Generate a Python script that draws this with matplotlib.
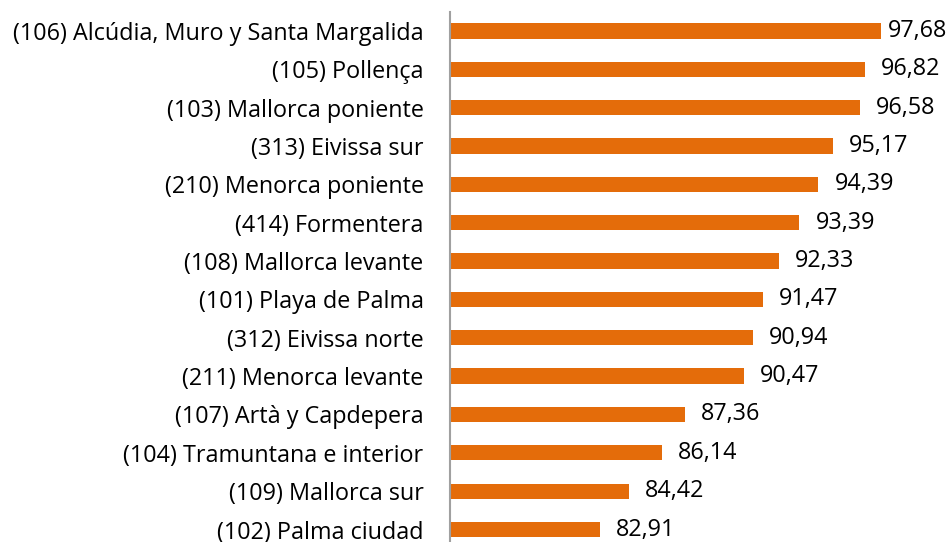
import matplotlib.pyplot as plt

zonas = ["(106) Alcúdia, Muro y Santa Margalida", "(105) Pollença", "(103) Mallorca poniente",
         "(313) Eivissa sur", "(210) Menorca poniente", "(414) Formentera",
         "(108) Mallorca levante", "(101) Playa de Palma", "(312) Eivissa norte",
         "(211) Menorca levante", "(107) Artà y Capdepera", "(104) Tramuntana e interior",
         "(109) Mallorca sur", "(102) Palma ciudad"]
valores = [97.68, 96.82, 96.58, 95.17, 94.39, 93.39, 92.33, 91.47, 90.94,
           90.47, 87.36, 86.14, 84.42, 82.91]

plt.rcParams['font.family'] = ['Open Sans', 'DejaVu Sans']
fs = 16.8

W, H = 951, 542
fig = plt.figure(figsize=(W / 100, H / 100), dpi=100)
# axes placed in pixel terms: axis line at x=450, bars scaled 19 px per unit
left, right = 450, 947
top, bottom = 11.8, 548.7
ax = fig.add_axes([left / W, 1 - bottom / H, (right - left) / W, (bottom - top) / H])

xmin = 75
xmax = xmin + (right - left) / 19.0
pos = list(range(len(zonas)))
ax.barh(pos, [v - xmin for v in valores], left=xmin, height=0.4, color='#E46C0A')
ax.set_xlim(xmin, xmax)
ax.set_ylim(len(zonas) - 0.5, -0.5)

ax.set_yticks(pos)
ax.set_yticklabels(zonas, fontsize=fs)
ax.tick_params(axis='y', length=0, pad=19)
ax.set_xticks([])
for s in ['top', 'right', 'bottom']:
    ax.spines[s].set_visible(False)
ax.spines['left'].set_color('#A0A0A0')
ax.spines['left'].set_linewidth(1.5)

pad = 16 / 19.0
lab_w = 60 / 19.0
for p, v in zip(pos, valores):
    txt = f"{v:.2f}".replace('.', ',')
    if v + pad + lab_w > xmax:
        ax.text(xmax, p, txt, ha='right', va='center', fontsize=fs, clip_on=False)
    else:
        ax.text(v + pad, p, txt, ha='left', va='center', fontsize=fs, clip_on=False)

fig.savefig('out.png', dpi=100)
